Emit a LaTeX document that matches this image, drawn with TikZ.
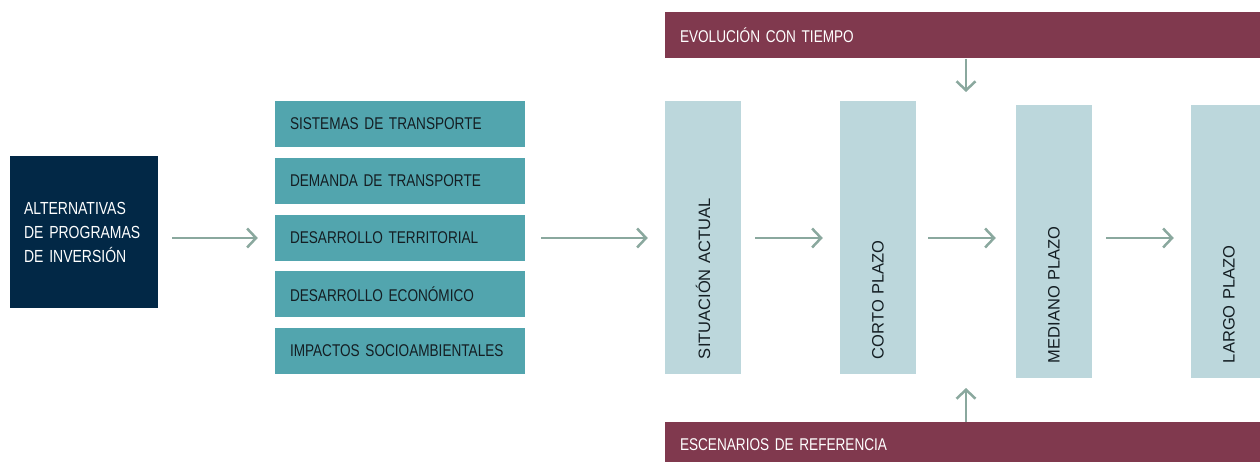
\documentclass[tikz,border=0pt]{standalone}
\usepackage{fontspec}
\setmainfont{Liberation Sans}[FakeStretch=0.8, WordSpace=0.6]
\newfontfamily\widefont{Liberation Sans}
\usetikzlibrary{arrows.meta}
\usepackage{xcolor}
\definecolor{navybox}{RGB}{2,40,70}
\definecolor{tealbox}{RGB}{82,165,174}
\definecolor{lightbox}{RGB}{188,215,220}
\definecolor{maroonbar}{RGB}{128,57,78}
\definecolor{arrowgreen}{RGB}{138,168,158}
\definecolor{darktext}{RGB}{20,30,35}

\begin{document}
\begin{tikzpicture}[x=1pt, y=-1pt,
    altbox/.style={fill=navybox, text=white, inner sep=0pt, minimum width=148pt, minimum height=152pt,
      text width=120pt, align=left, font=\fontsize{17.5}{24}\selectfont},
    impactbox/.style={fill=tealbox, text=darktext, inner sep=0pt, minimum width=250pt, minimum height=46pt,
      text width=220pt, align=left, font=\fontsize{17}{20}\selectfont},
    stagebox/.style={fill=lightbox, text=darktext, inner sep=0pt, rotate=90, minimum width=273pt, minimum height=76pt,
      text width=243pt, align=left, font=\widefont\fontsize{16.5}{20}\selectfont},
    timebar/.style={fill=maroonbar, text=white, inner sep=0pt, minimum width=610pt, minimum height=46pt,
      text width=580pt, align=left, font=\fontsize{17}{20}\selectfont},
    flow/.style={-{Straight Barb[length=9pt,width=19pt]}, draw=arrowgreen, line width=2.5pt,
      shorten <=14pt, shorten >=17pt}]
    \path[use as bounding box, clip] (0,0) rectangle (1260,462);
    % alternatives and impacts
    \node[altbox] (alt) at (84,232) {ALTERNATIVAS\\DE PROGRAMAS\\DE INVERSIÓN};
    \node[impactbox] (sys) at (400,124) {SISTEMAS DE TRANSPORTE};
    \node[impactbox] (dem) at (400,181) {DEMANDA DE TRANSPORTE};
    \node[impactbox] (terr) at (400,238) {DESARROLLO TERRITORIAL};
    \node[impactbox] (econ) at (400,294) {DESARROLLO ECONÓMICO};
    \node[impactbox] (soc) at (400,351) {IMPACTOS SOCIOAMBIENTALES};

    % time stages (rotated: north is the left side, south the right side)
    \node[stagebox] (now) at (703,237.5) {SITUACIÓN ACTUAL};
    \node[stagebox] (short) at (878,237.5) {CORTO PLAZO};
    \node[stagebox] (mid) at (1054,241.5) {MEDIANO PLAZO};
    \node[stagebox] (long) at (1229,241.5) {LARGO PLAZO};

    \node[timebar] (evol) at (970,35.5) {EVOLUCIÓN CON TIEMPO};
    \node[timebar] (scen) at (970,445) {ESCENARIOS DE REFERENCIA};
    \coordinate (evolend) at (966,92);
    \coordinate (scenend) at (966,388);

    \draw[flow] (alt.east |- terr) -- (terr.west);
    \draw[flow, shorten <=16pt] (terr.east) -- (now.north |- terr);
    \draw[flow] (now.south |- terr) -- (short.north |- terr);
    \draw[flow, shorten <=12pt, shorten >=20pt] (short.south |- terr) -- (mid.north |- terr);
    \draw[flow] (mid.south |- terr) -- (long.north |- terr);
    \draw[flow, shorten <=0pt, shorten >=0pt] (evol.south -| evolend) -- (evolend);
    \draw[flow, shorten <=0pt, shorten >=0pt] (scen.north -| scenend) -- (scenend);
\end{tikzpicture}
\end{document}
